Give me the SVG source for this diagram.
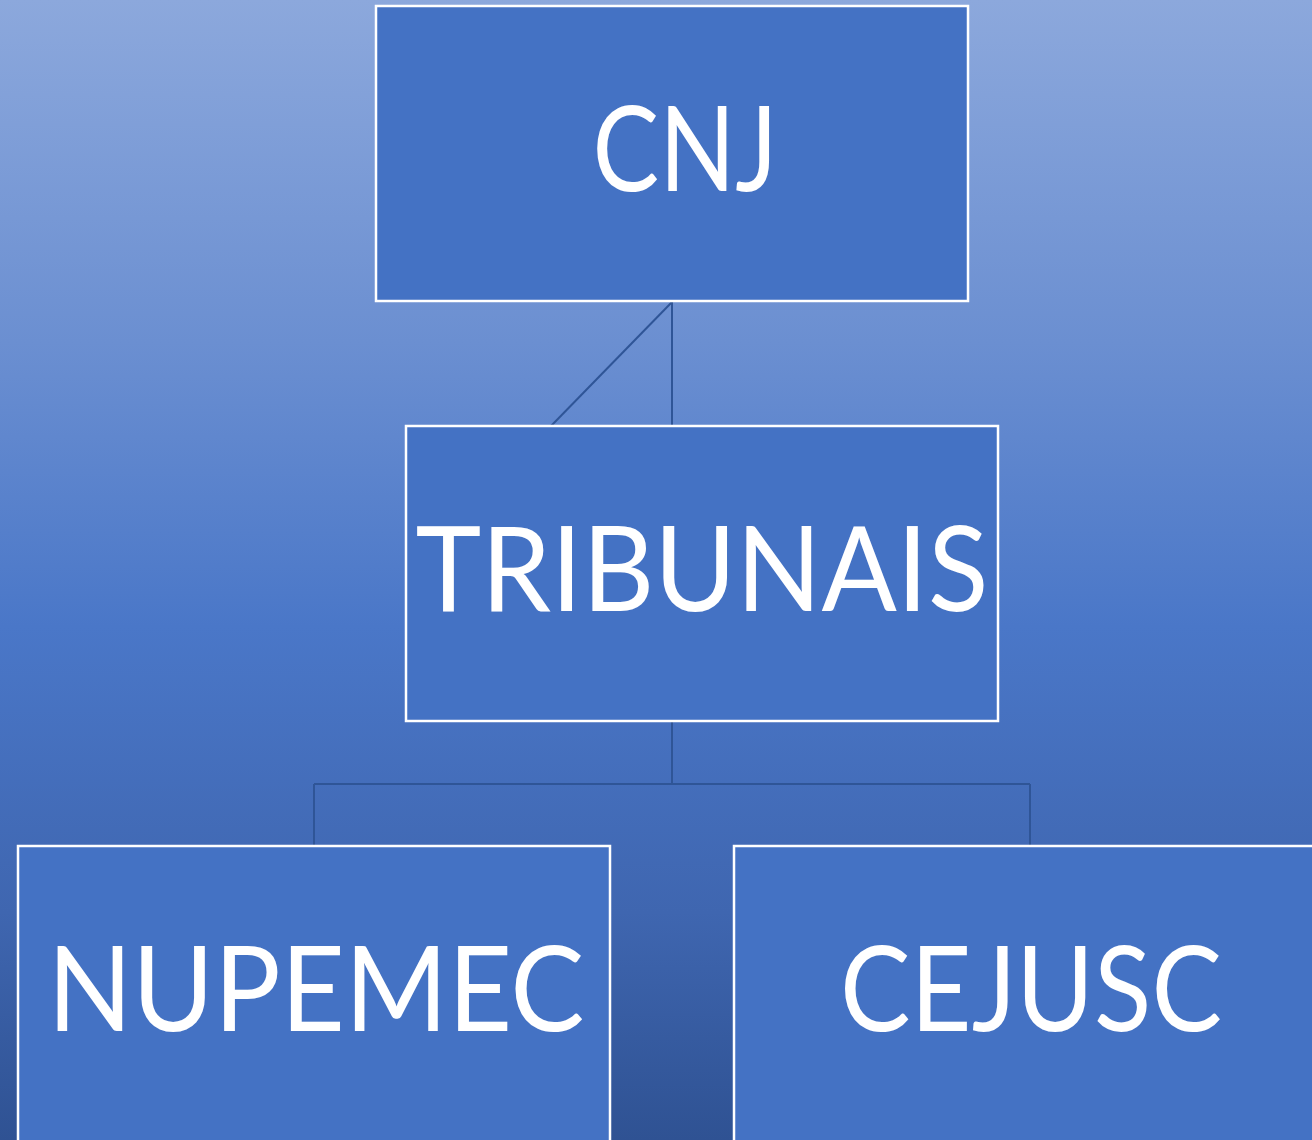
<svg xmlns="http://www.w3.org/2000/svg" width="1312" height="1140" viewBox="0 0 1312 1140">
<defs>
<linearGradient id="bg" x1="0" y1="0" x2="0" y2="1">
<stop offset="0" stop-color="#8CA8DC"/>
<stop offset="0.3" stop-color="#6B8FD1"/>
<stop offset="0.55" stop-color="#4A77C8"/>
<stop offset="0.8" stop-color="#3F66B0"/>
<stop offset="1" stop-color="#2F5293"/>
</linearGradient>
</defs>
<style>
.box{fill:#4472C4;stroke:#FFFFFF;stroke-width:2.5}
.lbl{font-family:Lato,"Open Sans","Liberation Sans",sans-serif;font-size:118px;fill:#FFFFFF;text-anchor:middle}
.con{fill:none;stroke:#2F5597;stroke-width:2}
</style>
<rect x="0" y="0" width="1312" height="1140" fill="url(#bg)"/>
<g id="connectors">
<path class="con" d="M672 302 V426"/>
<path class="con" d="M672 302 L551 426"/>
<path class="con" d="M672 721 V784 M314 784 H1030 M314 784 V846 M1030 784 V846"/>
</g>
<g id="node-cnj">
<rect class="box" x="376" y="6" width="592" height="295"/>
<text class="lbl" x="685" y="191" textLength="185" lengthAdjust="spacingAndGlyphs">CNJ</text>
</g>
<g id="node-tribunais">
<rect class="box" x="406" y="426" width="592" height="295"/>
<text class="lbl" x="702" y="611" textLength="573" lengthAdjust="spacingAndGlyphs">TRIBUNAIS</text>
</g>
<g id="node-nupemec">
<rect class="box" x="18" y="846" width="592" height="320"/>
<text class="lbl" x="316" y="1031" textLength="537" lengthAdjust="spacingAndGlyphs">NUPEMEC</text>
</g>
<g id="node-cejusc">
<rect class="box" x="734" y="846" width="620" height="320"/>
<text class="lbl" x="1031" y="1031" textLength="382" lengthAdjust="spacingAndGlyphs">CEJUSC</text>
</g>
</svg>
